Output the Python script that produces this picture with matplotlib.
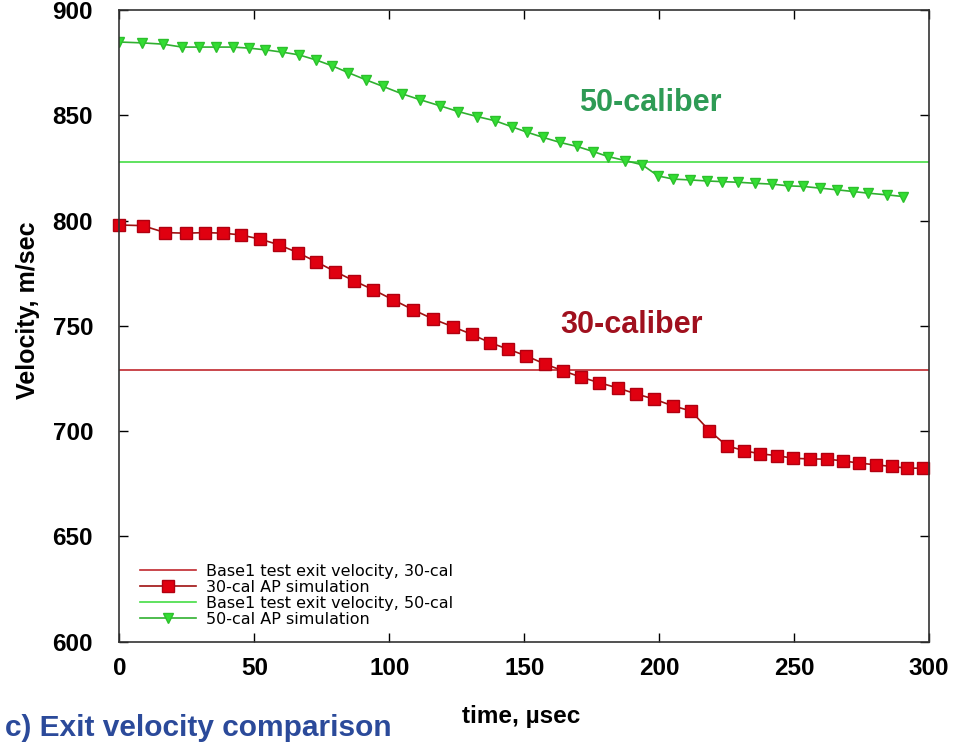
import matplotlib
matplotlib.use('Agg')
import matplotlib.pyplot as plt

plt.rcParams['font.family'] = ['Liberation Sans', 'DejaVu Sans']

# 30-cal AP simulation (time in usec, velocity in m/sec)
t30 = [0, 8.6, 16.9, 24.6, 31.7, 38.5, 44.9, 52.1, 59.1, 66.0, 72.8, 79.9, 86.9, 94.1,
       101.5, 108.9, 116.3, 123.5, 130.5, 137.3, 144.1, 150.8, 157.6, 164.3, 171.1,
       177.8, 184.9, 191.4, 198.2, 205.0, 211.8, 218.6, 225.1, 231.6, 237.4, 243.6,
       249.7, 255.9, 262.1, 268.0, 274.2, 280.4, 286.2, 292.0, 297.9]
v30 = [797.9, 797.6, 794.3, 794.0, 794.3, 794.0, 793.2, 791.2, 788.5, 784.8, 780.5,
       775.8, 771.4, 767.1, 762.3, 757.6, 753.2, 749.6, 746.0, 742.0, 738.9, 735.7,
       731.9, 728.7, 725.6, 723.0, 720.4, 717.7, 715.2, 712.0, 709.6, 700.2, 693.0,
       690.7, 689.2, 688.4, 687.1, 686.8, 686.7, 685.9, 684.8, 684.0, 683.2, 682.4, 682.4]

# 50-cal AP simulation
t50 = [0, 8.3, 16.1, 23.2, 29.5, 35.8, 42.1, 48.0, 54.0, 60.3, 66.5, 72.8, 78.8, 84.7,
       91.4, 97.7, 104.7, 111.4, 118.8, 125.5, 132.5, 139.2, 145.5, 151.0, 157.0, 163.3,
       169.6, 175.5, 181.1, 187.4, 193.7, 199.6, 205.2, 211.5, 217.8, 223.4, 229.3,
       235.6, 241.9, 247.8, 253.4, 259.7, 266.0, 271.9, 277.5, 284.6, 290.5]
v50 = [884.8, 884.4, 883.8, 882.4, 882.4, 882.4, 882.4, 881.9, 881.1, 880.0, 878.7,
       876.3, 873.5, 870.3, 866.8, 863.7, 860.2, 857.4, 854.5, 851.8, 849.4, 847.4,
       844.5, 842.0, 839.5, 837.1, 835.2, 832.8, 830.4, 828.5, 826.5, 821.2, 819.7,
       819.3, 818.8, 818.5, 818.2, 817.7, 817.3, 816.5, 816.2, 815.4, 814.6, 813.8,
       813.0, 812.2, 811.4]

# Base1 test exit velocities
base30 = 729
base50 = 828

xticks = [0, 50, 100, 150, 200, 250, 300]
yticks = [600, 650, 700, 750, 800, 850, 900]

fig = plt.figure(figsize=(9.55, 7.42), dpi=100)
ax = fig.add_axes([0.1251, 0.1352, 0.8477, 0.8513])

ax.axhline(base30, color='#c0282e', lw=1.2, label='Base1 test exit velocity, 30-cal')
ax.plot(t30, v30, color='#a01010', lw=1.2, marker='s', ms=8.5,
        markerfacecolor='#e00010', markeredgecolor='#b00010',
        label='30-cal AP simulation', clip_on=False)
ax.axhline(base50, color='#44dd44', lw=1.2, label='Base1 test exit velocity, 50-cal')
ax.plot(t50, v50, color='#30b030', lw=1.2, marker='v', ms=7,
        markerfacecolor='#33dd33', markeredgecolor='#2cc02c',
        label='50-cal AP simulation')

ax.set_xlim(0, 300)
ax.set_ylim(600, 900)
ax.set_xticks(xticks)
ax.set_yticks(yticks)
ax.tick_params(direction='in', length=6.5, width=1, top=True, right=True,
               labelsize=17.5)
ax.tick_params(axis='x', pad=11)
ax.tick_params(axis='y', pad=19)
for lab in ax.get_xticklabels() + ax.get_yticklabels():
    lab.set_fontweight('bold')
for s in ax.spines.values():
    s.set_linewidth(1.2)
    s.set_color('#333333')

ax.set_ylabel('Velocity, m/sec', fontsize=18, fontweight='bold', va='center')
ax.yaxis.set_label_coords(-0.113, 0.525)
ax.set_xlabel('time, \u00b5sec', fontsize=17.5, fontweight='bold', va='center')
ax.xaxis.set_label_coords(0.496, -0.118)

ax.text(196.6, 856, '50-caliber', color='#2e9b55', fontsize=22, fontweight='bold',
        ha='center', va='center')
ax.text(189.6, 750.4, '30-caliber', color='#a0101e', fontsize=22, fontweight='bold',
        ha='center', va='center')

ax.legend(loc='lower left', bbox_to_anchor=(0.025, 0.0235), frameon=False,
          prop={'family': 'DejaVu Sans', 'size': 11.5},
          handlelength=3.5, handletextpad=0.65, labelspacing=0.06, borderpad=0,
          borderaxespad=0)

fig.text(0.005, 6 / 742, 'c) Exit velocity comparison', color='#2b4a9a',
         fontsize=21.5, fontweight='bold', ha='left', va='baseline')

fig.savefig('out.png', dpi=100)
